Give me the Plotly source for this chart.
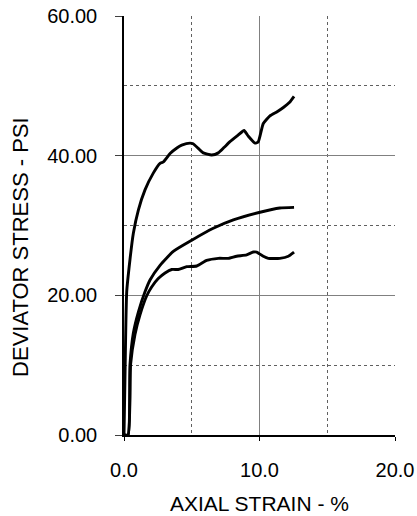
import plotly.graph_objects as go

# Curve A (upper)
strain_a = [0.0, 0.07, 0.2, 0.44, 0.69, 1.06, 1.55, 2.16, 2.66, 2.9, 3.4, 3.9, 4.26, 4.87, 5.1, 5.5,
            5.85, 6.47, 6.96, 7.4, 7.82, 8.4, 8.86, 9.17, 9.67, 9.91, 10.28, 10.77, 11.3, 11.76, 12.2, 12.55]
stress_a = [0.0, 7.9, 20.5, 25.1, 28.9, 32.2, 35.1, 37.5, 38.9, 39.1, 40.3, 41.1, 41.5, 41.8, 41.7, 41.0,
            40.4, 40.1, 40.4, 41.2, 42.0, 42.9, 43.6, 42.8, 41.8, 42.0, 44.6, 45.7, 46.3, 46.9, 47.6, 48.5]

# Curve B (middle, smooth)
strain_b = [0.0, 0.3, 0.44, 0.69, 1.06, 1.55, 1.92, 2.66, 3.64, 5.0, 6.59, 8.07, 10.04, 11.5, 12.55]
stress_b = [0.0, 0.0, 10.0, 14.6, 17.6, 20.5, 22.2, 24.3, 26.3, 27.9, 29.6, 30.8, 31.9, 32.5, 32.6]

# Curve C (lower, wavy)
strain_c = [0.0, 0.3, 0.49, 0.81, 1.18, 1.67, 2.04, 2.53, 3.03, 3.52, 4.0, 4.63, 5.37, 6.1, 6.96,
            7.7, 8.31, 9.05, 9.54, 9.79, 10.28, 10.65, 11.5, 12.13, 12.55]
stress_c = [0.0, 0.0, 10.2, 14.4, 17.2, 19.9, 21.2, 22.4, 23.2, 23.7, 23.7, 24.1, 24.2, 25.0, 25.3,
            25.3, 25.6, 25.8, 26.2, 26.2, 25.6, 25.3, 25.3, 25.6, 26.2]

x_ticks = [0, 10, 20]
y_ticks = [0, 20, 40, 60]
x_title = "AXIAL STRAIN - %"
y_title = "DEVIATOR STRESS - PSI"

FONT = "Liberation Sans, Arial, sans-serif"

fig = go.Figure()
for xs, ys in [(strain_a, stress_a), (strain_b, stress_b), (strain_c, stress_c)]:
    fig.add_trace(go.Scatter(x=xs, y=ys, mode="lines",
                             line=dict(color="black", width=2.9, shape="spline", smoothing=0.5),
                             showlegend=False, hoverinfo="skip"))

fig.update_layout(
    width=417, height=516,
    margin=dict(l=124, r=22, t=16, b=81, autoexpand=False),
    paper_bgcolor="white", plot_bgcolor="white",
    font=dict(family=FONT, color="black", size=20),
    annotations=[
        dict(text=x_title, xref="paper", yref="paper", x=0.5, y=-0.163,
             xanchor="center", yanchor="middle", showarrow=False, font=dict(size=21)),
        dict(text=y_title, xref="paper", yref="paper", x=-0.382, y=0.45,
             xanchor="center", yanchor="middle", textangle=-90, showarrow=False, font=dict(size=22)),
    ],
)
fig.update_xaxes(
    range=[0, 20], tickvals=x_ticks, tickformat=".1f", automargin=False,
    showgrid=True, gridcolor="#808080", gridwidth=1,
    minor=dict(dtick=5, showgrid=True, gridcolor="#606060", griddash="dot", gridwidth=1),
    showline=True, linecolor="black", linewidth=1.5,
    ticks="outside", ticklen=4, tickcolor="black",
    ticklabelstandoff=12, zeroline=False,
)
fig.update_yaxes(
    range=[0, 60], tickvals=y_ticks, tickformat=".2f", automargin=False,
    showgrid=True, gridcolor="#808080", gridwidth=1,
    minor=dict(dtick=10, showgrid=True, gridcolor="#606060", griddash="dot", gridwidth=1),
    showline=True, linecolor="black", linewidth=1.5,
    ticks="outside", ticklen=7, tickcolor="#404040",
    ticklabelstandoff=14, zeroline=False,
)
fig.write_html("out.html", config={"displayModeBar": False},
               post_script="document.body.style.margin='0px';document.body.style.overflow='hidden';")
